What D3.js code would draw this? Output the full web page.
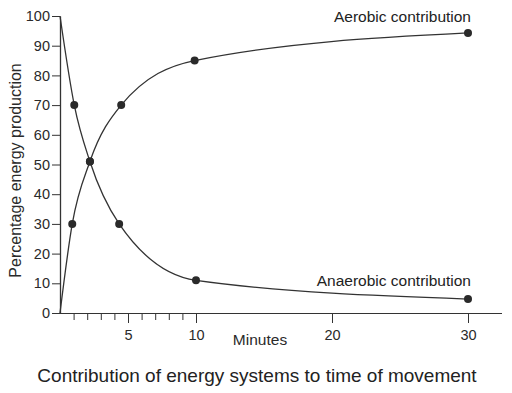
<!DOCTYPE html>
<html>
<head>
<meta charset="utf-8">
<script src="https://cdn.jsdelivr.net/npm/d3@7"></script>
<style>
  body { margin: 0; background: #fff; }
  svg { display: block; font-family: 'Liberation Sans', Arial, sans-serif; }
  .axis text { fill: #2a2a2a; }
</style>
</head>
<body>
<div id="chart"></div>
<script>
// minutes and % contribution
const aerobicMinutes = [0, 0.9, 2.2, 4.5, 9.9, 30]
const aerobicValues = [0, 30, 51, 70, 85, 94.3]
const anaerobicMinutes = [0, 1.05, 2.2, 4.35, 10, 30]
const anaerobicValues = [100, 70, 51, 30, 11, 4.7]
const yTicks = [0, 10, 20, 30, 40, 50, 60, 70, 80, 90, 100]
const xTicks = [1, 2, 3, 4, 5, 6, 7, 8, 9, 10, 20, 30]
const xLabels = [5, 10, 20, 30]

const width = 512
const height = 393
const margin = { top: 16, right: 10, bottom: 80, left: 60 }

const svg = d3.select('#chart')
  .append('svg')
  .attr('width', width)
  .attr('height', height)

const x = d3.scaleLinear()
  .domain([0, 30])
  .range([margin.left, 468])

const y = d3.scaleLinear()
  .domain([0, 100])
  .range([313, margin.top])

const axis = svg.append('g').classed('axis', true)

// y axis
axis.append('g')
  .attr('transform', `translate(${margin.left},0)`)
  .call(d3.axisLeft(y).tickValues(yTicks).tickSize(8).tickPadding(2).tickSizeOuter(0))
  .call(g => g.select('.domain').attr('stroke', '#333').attr('stroke-width', 1.3))
  .call(g => g.selectAll('.tick line').attr('stroke', '#333'))
  .call(g => g.selectAll('text').attr('font-size', 14.5))

// x axis, labelled ticks are a bit longer
axis.append('g')
  .attr('transform', `translate(0,${y(0)})`)
  .call(d3.axisBottom(x).tickValues(xTicks).tickSize(7).tickPadding(10).tickSizeOuter(0)
    .tickFormat(d => xLabels.includes(d) ? d : ''))
  .call(g => g.select('.domain').attr('d', `M${margin.left},0.5H502`).attr('stroke', '#333').attr('stroke-width', 1.2))
  .call(g => g.selectAll('.tick line').attr('stroke', '#333').attr('y2', d => xLabels.includes(d) ? 10 : 7))
  .call(g => g.selectAll('text').attr('font-size', 14.5))

axis.append('text')
  .attr('x', 260)
  .attr('y', 345)
  .attr('text-anchor', 'middle')
  .attr('font-size', 15.5)
  .text('Minutes')

axis.append('text')
  .attr('transform', `translate(21,${y(48)}) rotate(-90)`)
  .attr('text-anchor', 'middle')
  .attr('font-size', 16)
  .text('Percentage energy production')

svg.append('text')
  .attr('x', 257)
  .attr('y', 382)
  .attr('text-anchor', 'middle')
  .attr('font-size', 19)
  .attr('fill', '#222')
  .text('Contribution of energy systems to time of movement')

const series = [
  { name: 'Aerobic contribution', minutes: aerobicMinutes, values: aerobicValues, labelY: 22 },
  { name: 'Anaerobic contribution', minutes: anaerobicMinutes, values: anaerobicValues, labelY: 286 }
]

const line = d3.line()
  .x(d => x(d[0]))
  .y(d => y(d[1]))
  .curve(d3.curveMonotoneX)

const parent = svg.append('g').classed('parent', true)

series.forEach(s => {
  const pts = s.minutes.map((m, i) => [m, s.values[i]])

  parent.append('path')
    .attr('d', line(pts))
    .attr('fill', 'none')
    .attr('stroke', '#333')
    .attr('stroke-width', 1.3)

  parent.selectAll(null)
    .data(pts.slice(1))
    .enter()
    .append('circle')
    .attr('cx', d => x(d[0]))
    .attr('cy', d => y(d[1]))
    .attr('r', 4)
    .style('fill', '#2a2a2a')

  parent.append('text')
    .attr('x', x(30) + 3)
    .attr('y', s.labelY)
    .attr('text-anchor', 'end')
    .attr('font-size', 15.5)
    .attr('fill', '#222')
    .text(s.name)
})
</script>
</body>
</html>
